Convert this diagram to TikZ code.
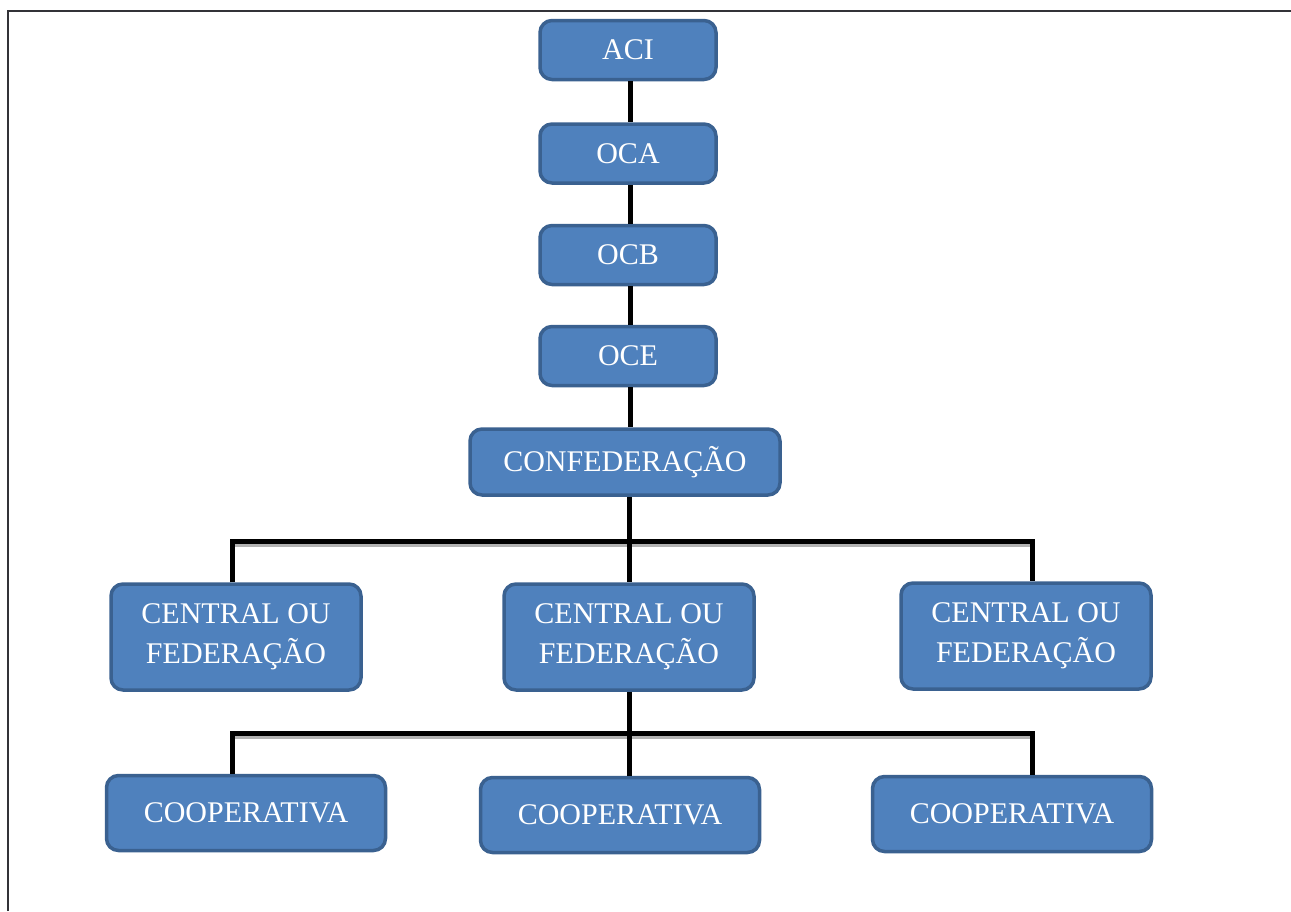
\documentclass[tikz,border=0pt]{standalone}
\usepackage{fontspec}
\setmainfont{Liberation Serif}
\usetikzlibrary{positioning}
\definecolor{boxfill}{HTML}{4F81BD}
\definecolor{boxline}{HTML}{3A6190}
\definecolor{framegray}{HTML}{333338}
\tikzset{org node/.style={rectangle,rounded corners=12pt,draw=boxline,line width=3.5pt,fill=boxfill,
    text=white,font=\fontsize{30}{40}\selectfont,align=center,inner sep=0pt},
  top node/.style={org node,minimum width=176pt,minimum height=59pt},
  link/.style={line width=5pt,black},
  bar shadow/.style={line width=3pt,black!30},}

\begin{document}
\begin{tikzpicture}[x=1pt,y=-1pt]
  \useasboundingbox (0,0) rectangle (1291,911);
  % frame
  \draw[framegray,line width=1.5pt] (8,911) -- (8,11);
  \draw[framegray,line width=2.5pt] (7.25,11) -- (1291,11);

  \node[top node] (aci) at (628,50) {ACI};
  \node[top node] (oca) [below = 41pt of aci] {OCA};
  \node[top node] (ocb) [below = 39pt of oca] {OCB};
  \node[top node] (oce) [below = 38.5pt of ocb] {OCE};
  \node[org node,minimum width=310pt,minimum height=66pt] (conf) [below = 40pt of oce, xshift=-3pt] {CONFEDERAÇÃO};

  \node[org node,minimum width=250pt,minimum height=106pt] (cen1) at (236,637) {CENTRAL OU\\FEDERAÇÃO};
  \node[org node,minimum width=250pt,minimum height=106pt] (cen2) at (629,637) {CENTRAL OU\\FEDERAÇÃO};
  \node[org node,minimum width=250pt,minimum height=106pt] (cen3) at (1026,636) {CENTRAL OU\\FEDERAÇÃO};

  \node[org node,minimum width=279pt,minimum height=75pt] (coop1) at (246,813) {COOPERATIVA};
  \node[org node,minimum width=279pt,minimum height=75pt] (coop2) at (620,815) {COOPERATIVA};
  \node[org node,minimum width=279pt,minimum height=75pt] (coop3) at (1012,814) {COOPERATIVA};

  \coordinate (b1l) at (232,541);
  \coordinate (b1r) at (1032,541);
  \coordinate (b2l) at (232,733);
  \coordinate (b2r) at (1032,733);

  % top chain
  \draw[link] ([xshift=2pt]aci.south) -- ([xshift=2pt]oca.north);
  \draw[link] ([xshift=2pt]oca.south) -- ([xshift=2pt]ocb.north);
  \draw[link] ([xshift=2pt]ocb.south) -- ([xshift=2pt]oce.north);
  \draw[link] ([xshift=2pt]oce.south) -- ([xshift=2pt]oce.south |- conf.north);

  % bars
  \draw[bar shadow] ([yshift=-4pt]b1l) -- ([yshift=-4pt]b1r);
  \draw[bar shadow] ([yshift=-4pt]b2l) -- ([yshift=-4pt]b2r);
  \draw[link] (cen1.north -| b1l) -- (b1l) -- (b1r) -- (cen3.north -| b1r);
  \draw[link] (coop1.north -| b2l) -- (b2l) -- (b2r) -- (coop3.north -| b2r);
  \draw[link] (cen2.north |- conf.south) -- (cen2.north);
  \draw[link] (cen2.south) -- (cen2.south |- coop2.north);
\end{tikzpicture}
\end{document}
